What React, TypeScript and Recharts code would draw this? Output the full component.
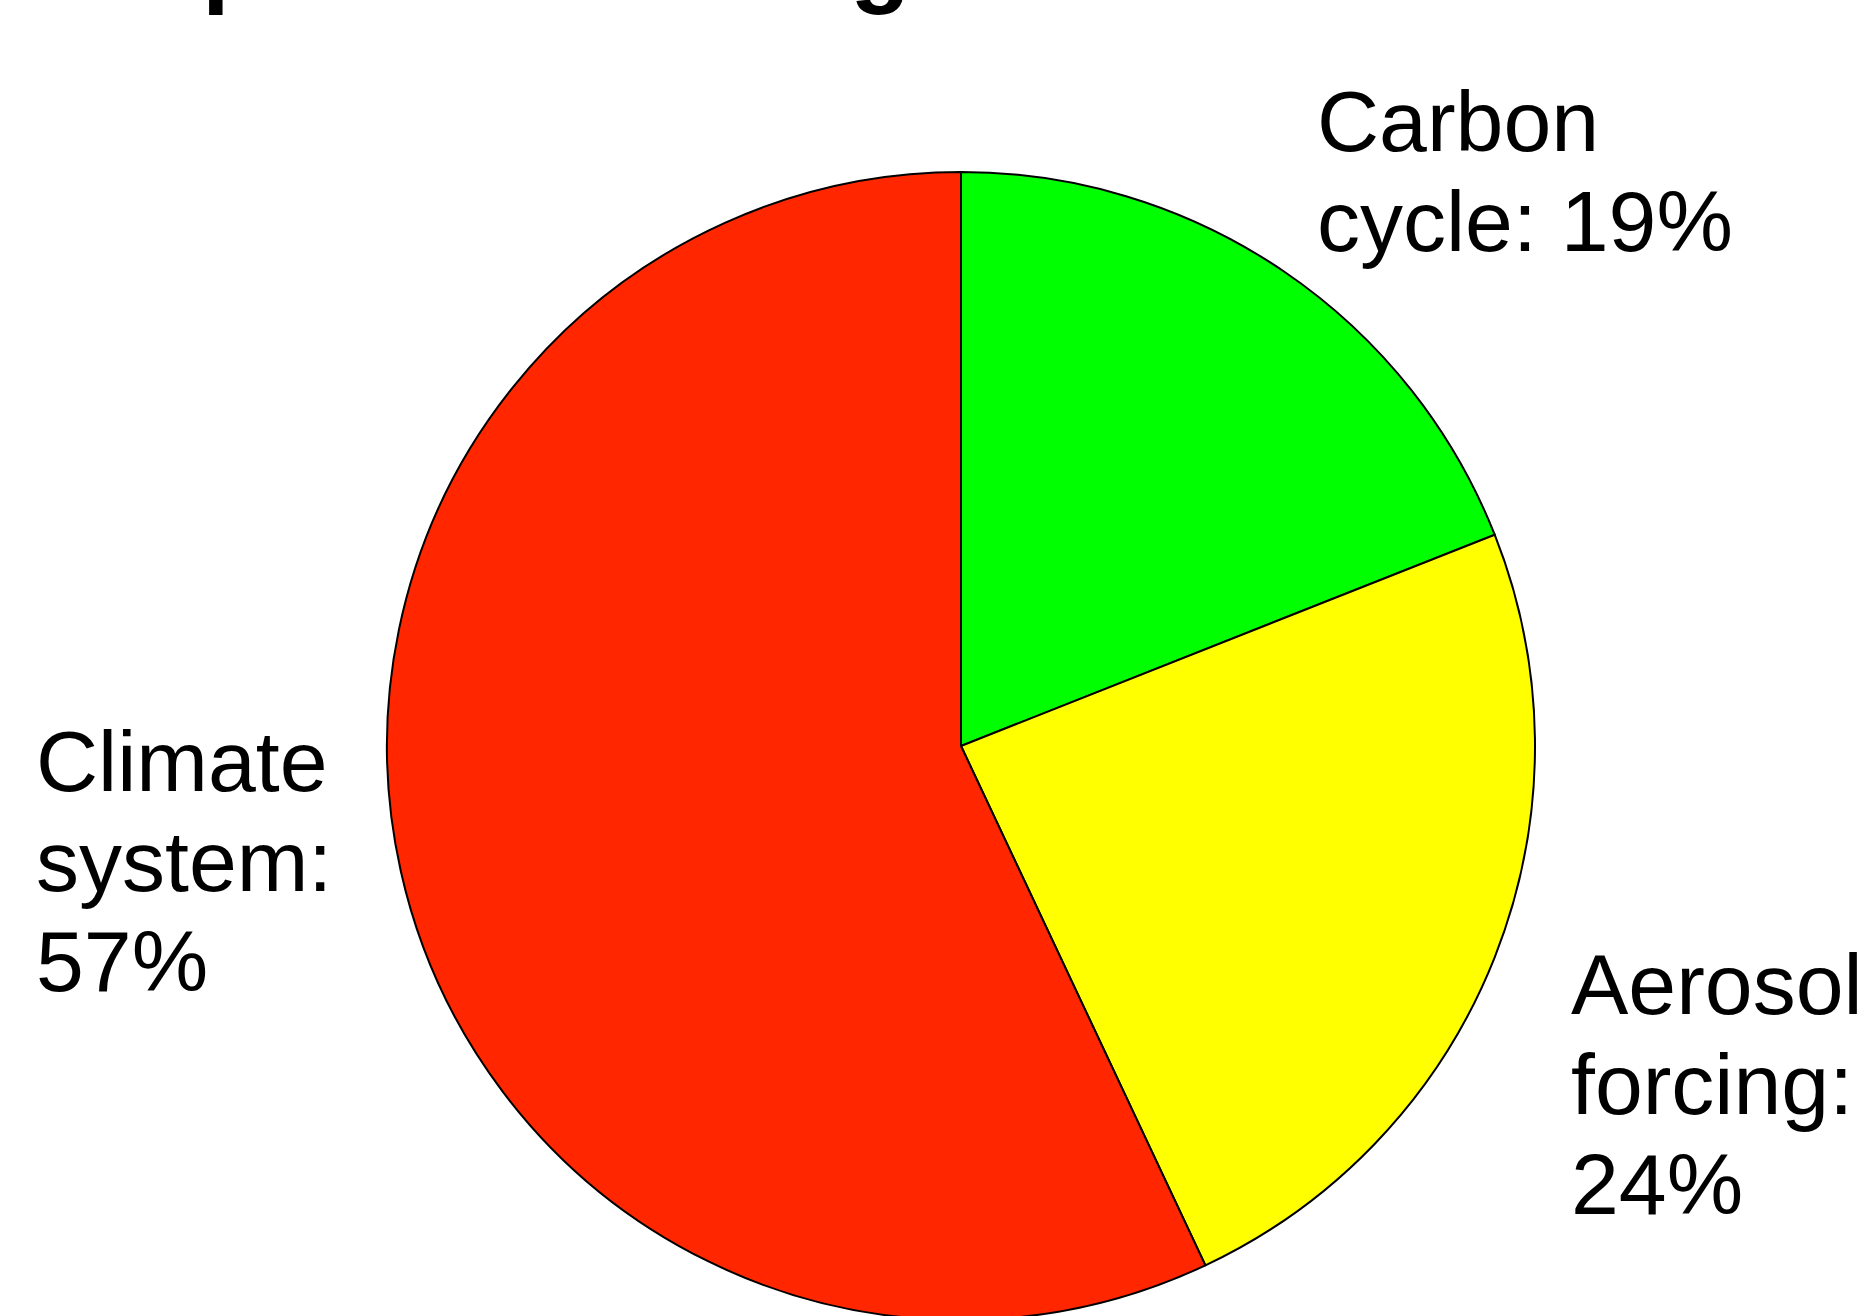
import { PieChart, Pie, Cell } from 'recharts'

// share of the total uncertainty, in percent
const sources = ['Carbon cycle', 'Aerosol forcing', 'Climate system']
const shares = [19, 24, 57]
const colors = ['#00ff00', '#ffff00', '#ff2600']
// each label is broken over these lines
const labelLines = [
  ['Carbon', 'cycle: 19%'],
  ['Aerosol', 'forcing:', '24%'],
  ['Climate', 'system:', '57%'],
]

const W = 1866
const H = 1316
const FONT = '"Liberation Sans", Arial, Helvetica, sans-serif'

// where each label block starts (first baseline)
const labelAnchors = [
  { x: 1317, y: 151 },
  { x: 1571, y: 1014 },
  { x: 36, y: 791 },
]

const data = sources.map((name, i) => ({ name, value: shares[i], color: colors[i] }))

const renderLabel = ({ index }: any) => {
  const a = labelAnchors[index]
  return (
    <text x={a.x} y={a.y} fontSize={86} fontFamily={FONT} fill="#000" textAnchor="start">
      {labelLines[index].map((line, i) => (
        <tspan key={i} x={a.x} dy={i === 0 ? 0 : 100}>{line}</tspan>
      ))}
    </text>
  )
}

export default function App() {
  return (
    <div style={{ position: 'absolute', left: 0, top: 0, width: W, height: H, overflow: 'hidden', background: '#fff' }}>
      <div style={{ position: 'absolute', left: 8, top: -88, fontFamily: FONT, fontWeight: 700, fontSize: 98, lineHeight: 1, whiteSpace: 'nowrap' }}>
        Temperature change
      </div>
      <PieChart width={W} height={H} margin={{ top: 0, right: 0, bottom: 0, left: 0 }} style={{ position: 'absolute', left: 0, top: 0 }}>
        <Pie
          data={data}
          dataKey="value"
          nameKey="name"
          cx={961}
          cy={746}
          outerRadius={574}
          startAngle={90}
          endAngle={-270}
          stroke="#000"
          strokeWidth={2}
          label={renderLabel}
          labelLine={false}
          isAnimationActive={false}
        >
          {data.map((d, i) => (
            <Cell key={`cell-${i}`} fill={d.color} />
          ))}
        </Pie>
      </PieChart>
    </div>
  )
}
